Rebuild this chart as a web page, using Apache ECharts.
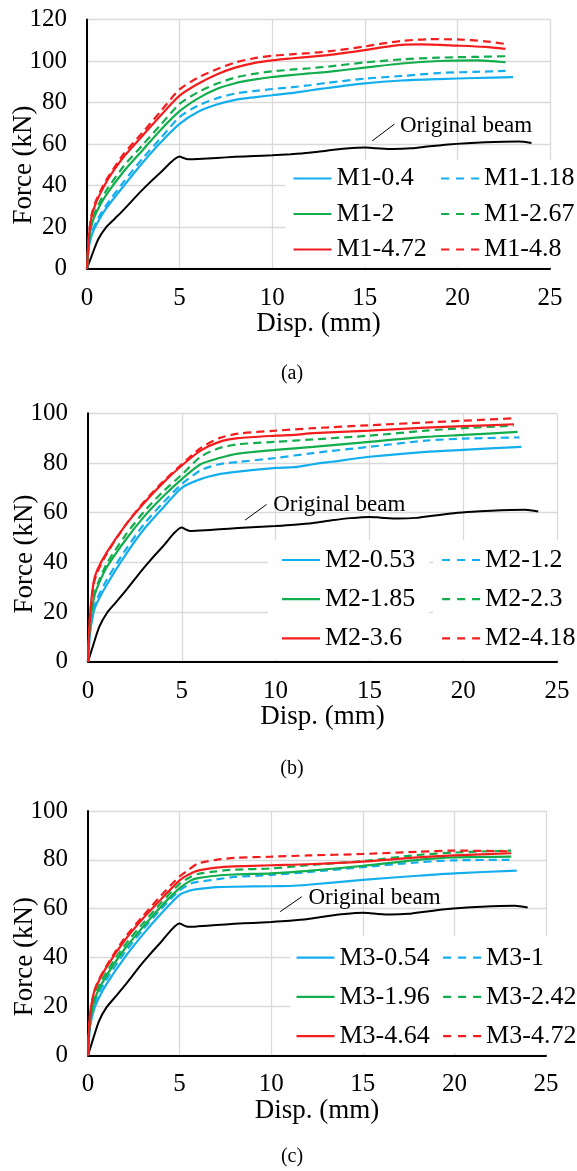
<!DOCTYPE html>
<html>
<head>
<meta charset="utf-8">
<script src="https://cdn.jsdelivr.net/npm/echarts/dist/echarts.min.js"></script>
<style>
  html, body { margin: 0; padding: 0; background: #fff; }
  #chart { width: 577px; height: 1171px; }
</style>
</head>
<body>
<div id="chart"></div>
<script>
// Load–displacement curves of strengthened beams, three groups (M1, M2, M3)
const xTicks = [0, 5, 10, 15, 20, 25];
const yTicksA = [0, 20, 40, 60, 80, 100, 120];
const yTicksBC = [0, 20, 40, 60, 80, 100];

// Unstrengthened reference beam (same test in every panel)
const originalBeam = [[0,0],[0.25,6],[0.6,14],[1.0,19.5],[1.5,24],[2.0,28.5],[3.0,38],[4.0,46.5],[5.0,54],[5.2,53.3],[5.45,52.6],[6,52.8],[7,53.3],[8,53.8],[9,54.2],[10,54.6],[11,55.1],[12,55.8],[13,56.9],[14,57.8],[15,58.3],[15.6,58.0],[16.5,57.6],[17.5,57.9],[18.5,58.9],[19.5,59.8],[20.5,60.4],[21.5,60.8],[22.5,61.1],[23.3,61.2],[24,60.5]];

// Group M1
const m1_0_4  = [[0,0],[0.1,10],[0.25,16],[0.5,21],[1,28.5],[2,40],[3,51],[4,61],[5,69.7],[6,75.5],[7,79],[8,81.3],[9,82.5],[10,83.5],[11,84.5],[12,85.8],[13,87],[15,89.2],[17,90.6],[19,91.3],[21,91.8],[23,92.2]];
const m1_1_18 = [[0,0],[0.1,11],[0.25,17],[0.5,22.5],[1,30],[2,42],[3,53],[4,63],[5,73],[6,78.5],[7,82],[8,84.3],[9,85.5],[10,86.5],[11,87.3],[12,88.3],[13,89.5],[15,91.5],[17,92.8],[19,94.2],[21,94.8],[22.6,95.2]];
const m1_2    = [[0,0],[0.1,13],[0.25,21],[0.5,27],[1,35],[2,47],[3,57],[4,67],[5,75.8],[6,82],[7,86.5],[8,89.3],[9,91],[10,92.3],[11,93.2],[12,94],[13,94.8],[15,96.8],[17,98.8],[19,100],[21,100.3],[22.6,99.4]];
const m1_2_67 = [[0,0],[0.1,14],[0.25,22],[0.5,28.5],[1,37],[2,49.5],[3,59.5],[4,69.5],[5,79.3],[6,85],[7,89],[8,92],[9,93.8],[10,95],[11,95.8],[12,96.5],[13,97.3],[15,99.3],[17,100.8],[19,101.6],[21,102],[22.6,102.3]];
const m1_4_72 = [[0,0],[0.1,15],[0.25,25],[0.5,32],[1,41],[1.5,48],[2,54],[3,64],[4,74],[5,83.3],[6,89],[7,93.5],[8,96.8],[9,99],[10,100.3],[11,101.2],[12,102],[13,102.8],[15,105.2],[16,106.7],[17,107.8],[18,108],[20,107.4],[21.5,106.8],[22.6,105.8]];
const m1_4_8  = [[0,0],[0.1,16],[0.25,26],[0.5,33],[1,42],[1.5,49],[2,55.5],[3,65.5],[4,76],[5,86.3],[6,92],[7,96],[8,99.3],[9,101.3],[10,102.5],[11,103.2],[12,103.8],[13,104.6],[15,107],[16,108.5],[17,109.7],[18.5,110.5],[20,110.4],[21.5,109.5],[22.6,108.2]];

// Group M2
const m2_0_53 = [[0,0],[0.1,11],[0.3,20],[0.5,24],[1,31],[2,43],[3,53.5],[4,62],[5,70],[6,73.5],[7,75.5],[8,76.5],[10,78],[11,78.3],[12,79.5],[13,80.5],[15,82.5],[18,84.5],[20,85.3],[23.1,86.5]];
const m2_1_2  = [[0,0],[0.1,12],[0.3,21],[0.5,25.5],[1,33],[2,45],[3,55.5],[4,64],[5,71.5],[6,77],[7,79.5],[8,80.4],[10,82],[12,84],[15,86.5],[18,89],[20,89.8],[23,90.3]];
const m2_1_85 = [[0,0],[0.1,14],[0.3,25],[0.5,30],[1,38],[2,49],[3,58.5],[4,66.5],[5,73.5],[6,79.5],[7,82],[8,83.8],[10,85.3],[12,86.5],[15,88.5],[18,90.5],[20,91.3],[22.9,92.5]];
const m2_2_3  = [[0,0],[0.1,15],[0.3,26],[0.5,31],[1,39.5],[2,51],[3,60.5],[4,68.5],[5,75.3],[6,82.5],[7,86],[8,87.5],[10,88.5],[12,89.5],[15,91],[18,93],[20,94],[22.7,95]];
const m2_3_6  = [[0,0],[0.1,18],[0.3,32],[0.5,37],[1,44],[2,55],[3,64],[4,72],[5,79],[6,85],[7,88.5],[8,90],[10,91],[11,91.3],[12,92],[15,93],[18,94.2],[20,94.8],[22.7,95.6]];
const m2_4_18 = [[0,0],[0.1,17],[0.3,31],[0.5,36],[1,43.5],[2,55],[3,64.5],[4,72.5],[5,79.5],[6,86],[7,90],[8,91.8],[10,93],[12,94],[15,95.2],[18,96.3],[20,97],[22.7,98]];

// Group M3
const m3_0_54 = [[0,0],[0.1,11],[0.3,18],[0.5,22],[1,29],[2,40],[3,49.5],[4,58],[5,65.7],[5.6,67.5],[6,68],[7,68.8],[8,69],[10,69.2],[11,69.3],[12,69.8],[15,71.8],[18,73.5],[20,74.5],[23.4,75.6]];
const m3_1    = [[0,0],[0.1,12],[0.3,19.5],[0.5,24],[1,31],[2,42],[3,51.5],[4,60],[5,67.5],[5.6,70.3],[6,71],[7,72],[8,73],[10,73.8],[12,75],[15,77],[18,79],[20,79.8],[23,80]];
const m3_1_96 = [[0,0],[0.1,13],[0.3,21],[0.5,25.5],[1,32.5],[2,43.5],[3,52.5],[4,61],[5,68.4],[5.6,71.5],[6,72.5],[7,73.5],[8,74],[10,74.5],[12,75.5],[15,77.5],[18,80],[20,81],[23.1,81.3]];
const m3_2_42 = [[0,0],[0.1,14],[0.3,22.5],[0.5,27],[1,34],[2,45],[3,54],[4,62.5],[5,70.2],[5.6,73],[6,74.2],[7,75.3],[8,76],[10,76.5],[12,77.8],[15,79.5],[18,82],[20,83],[23.1,83.8]];
const m3_4_64 = [[0,0],[0.1,16],[0.3,25],[0.5,29],[1,36],[2,47],[3,56],[4,64],[5,71.6],[5.5,74],[6,75.6],[7,76.8],[8,77.3],[10,77.8],[12,78.2],[15,79.3],[18,81],[20,81.8],[23.1,82.7]];
const m3_4_72 = [[0,0],[0.1,15],[0.3,25],[0.5,29.5],[1,36.5],[2,48],[3,57],[4,65.5],[5,73.2],[5.5,76],[6,78.5],[7,80],[8,80.8],[10,81.3],[12,81.8],[15,82.4],[18,83.3],[20,83.8],[23.1,83.5]];

// "Original beam" callout per panel, in data units: label anchor, arrow tail, arrow head
const beamCallouts = [
  { label: [16.9, 68.6], tail: [16.6, 69.6], head: [15.4, 61.5] },
  { label: [9.87, 63.0], tail: [9.52, 63.3], head: [8.37, 57.0] },
  { label: [12.03, 64.3], tail: [11.67, 64.9], head: [10.49, 58.8] }
];

const BLUE = '#14aeee', GREEN = '#12ad4c', RED = '#f41d1d';
const FONT = "'Liberation Serif', 'Times New Roman', serif";

const panels = [
  {
    yMax: 120, yTicks: yTicksA,
    grid: { left: 87, top: 19.5, width: 463, height: 249 },
    forceShift: 42,
    curves: [
      ['M1-0.4', m1_0_4, BLUE, false], ['M1-1.18', m1_1_18, BLUE, true],
      ['M1-2', m1_2, GREEN, false], ['M1-2.67', m1_2_67, GREEN, true],
      ['M1-4.72', m1_4_72, RED, false], ['M1-4.8', m1_4_8, RED, true]
    ],
    legend: { col1: 285.5, col2: 432, top: 160, padL1: 8, padT: 5.5, padB: 4, gap: 9.5 },
    caption: { text: '(a)', y: 374 }
  },
  {
    yMax: 100, yTicks: yTicksBC,
    grid: { left: 88, top: 413.3, width: 469, height: 248.4 },
    forceShift: 33,
    curves: [
      ['M2-0.53', m2_0_53, BLUE, false], ['M2-1.2', m2_1_2, BLUE, true],
      ['M2-1.85', m2_1_85, GREEN, false], ['M2-2.3', m2_2_3, GREEN, true],
      ['M2-3.6', m2_3_6, RED, false], ['M2-4.18', m2_4_18, RED, true]
    ],
    legend: { col1: 268, col2: 433, top: 540, padL1: 14, padT: 7, padB: 8, gap: 13.2 },
    caption: { text: '(b)', y: 769 }
  },
  {
    yMax: 100, yTicks: yTicksBC,
    grid: { left: 88, top: 811, width: 458, height: 244.3 },
    forceShift: 47,
    curves: [
      ['M3-0.54', m3_0_54, BLUE, false], ['M3-1', m3_1, BLUE, true],
      ['M3-1.96', m3_1_96, GREEN, false], ['M3-2.42', m3_2_42, GREEN, true],
      ['M3-4.64', m3_4_64, RED, false], ['M3-4.72', m3_4_72, RED, true]
    ],
    legend: { col1: 290, col2: 434, top: 935.7, padL1: 6.5, padT: 9, padB: 4, gap: 13.2 },
    caption: { text: '(c)', y: 1156.7 }
  }
];

const grids = [], xAxes = [], yAxes = [], series = [], legends = [], graphics = [];

panels.forEach((p, i) => {
  grids.push(Object.assign({ containLabel: false, outerBoundsMode: 'none' }, p.grid));

  xAxes.push({
    type: 'value', gridIndex: i, min: xTicks[0], max: xTicks[xTicks.length - 1], interval: 5,
    name: 'Disp. (mm)', nameLocation: 'middle', nameGap: 42, nameMoveOverlap: false,
    nameTextStyle: { fontFamily: FONT, fontSize: 27, color: '#000' },
    axisLine: { show: true, onZero: false, lineStyle: { color: '#000', width: 2 } },
    axisTick: { show: false },
    axisLabel: { margin: 17, fontFamily: FONT, fontSize: 25, color: '#000', showMaxLabel: true, showMinLabel: true },
    splitLine: { show: true, lineStyle: { color: '#d9d9d9', width: 1.3 } }
  });

  // right padding on the rotated title slides it down along the axis
  yAxes.push({
    type: 'value', gridIndex: i, min: 0, max: p.yMax, interval: 20,
    name: 'Force (kN)', nameLocation: 'middle', nameGap: 49.5, nameRotate: 90, nameMoveOverlap: false,
    nameTextStyle: { fontFamily: FONT, fontSize: 27, color: '#000', padding: [0, p.forceShift, 0, 0] },
    axisLine: { show: true, onZero: false, lineStyle: { color: '#000', width: 2 } },
    axisTick: { show: false },
    axisLabel: { margin: 20, fontFamily: FONT, fontSize: 25, color: '#000' },
    splitLine: { show: true, lineStyle: { color: '#d9d9d9', width: 1.3 } }
  });

  const c = beamCallouts[i];
  series.push({
    name: 'Original beam', type: 'line', xAxisIndex: i, yAxisIndex: i,
    data: originalBeam, symbol: 'none', smooth: 0.25,
    lineStyle: { color: '#000', width: 2 }, itemStyle: { color: '#000' }, z: 3,
    markLine: {
      silent: true, symbol: ['none', 'arrow'], symbolSize: [0, 9],
      label: { show: false },
      lineStyle: { color: '#000', width: 1, type: 'solid' },
      data: [[{ coord: c.tail }, { coord: c.head }]]
    },
    markPoint: {
      silent: true, symbol: 'circle', symbolSize: 1,
      itemStyle: { color: 'rgba(0,0,0,0)' },
      label: { show: true, position: 'inside', align: 'left', verticalAlign: 'middle',
               formatter: 'Original beam', fontFamily: FONT, fontSize: 23, color: '#000' },
      data: [{ coord: c.label }]
    }
  });

  p.curves.forEach(([name, data, color, dashed]) => {
    series.push({
      name, type: 'line', xAxisIndex: i, yAxisIndex: i, data,
      symbol: 'none', smooth: 0.25,
      lineStyle: { color, width: 2.2, type: dashed ? [8, 5] : 'solid' },
      itemStyle: { color }, z: 4
    });
  });

  const L = p.legend;
  const base = {
    orient: 'vertical', top: L.top, itemWidth: 38, itemHeight: 2.2, itemGap: L.gap,
    backgroundColor: '#fff', z: 10, selectedMode: false,
    itemStyle: { borderWidth: 0 },
    textStyle: { fontFamily: FONT, fontSize: 26, color: '#000', lineHeight: 26 }
  };
  // solid keys: a filled bar; dashed keys: the series' own line with a 3-dash pattern
  const solidItem = cv => ({ name: cv[0], icon: 'rect', itemStyle: { color: cv[2], borderWidth: 0 } });
  const dashedItem = cv => ({
    name: cv[0],
    itemStyle: { opacity: 0 },
    lineStyle: { color: cv[2], width: 2.2, type: [8, 7] }
  });
  legends.push(Object.assign({}, base, {
    left: L.col1, padding: [L.padT, 14, L.padB, L.padL1],
    data: p.curves.filter(cv => !cv[3]).map(solidItem)
  }));
  legends.push(Object.assign({}, base, {
    left: L.col2, padding: [L.padT, 20, L.padB, 8],
    data: p.curves.filter(cv => cv[3]).map(dashedItem)
  }));

  graphics.push({
    type: 'text', x: 292, y: p.caption.y, silent: true,
    style: { text: p.caption.text, font: '20px ' + FONT, fill: '#000', align: 'center', verticalAlign: 'middle' }
  });
});

const chart = echarts.init(document.getElementById('chart'), null, { renderer: 'canvas' });
chart.setOption({
  animation: false,
  backgroundColor: '#fff',
  grid: grids, xAxis: xAxes, yAxis: yAxes,
  legend: legends, series, graphic: graphics
});
</script>
</body>
</html>
